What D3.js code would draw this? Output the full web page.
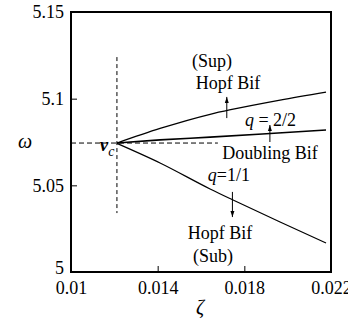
<!DOCTYPE html>
<html>
<head>
<meta charset="utf-8">
<script src="https://cdn.jsdelivr.net/npm/d3@7"></script>
<style>
body { margin: 0; background: #fff; }
text { font-family: "Liberation Serif", "Times New Roman", serif; fill: #000; }
</style>
</head>
<body>
<script>
// critical point
var critZeta = 0.01212, critOmega = 5.0744;

// branches out of the critical point
var supZeta = [0.01212, 0.01411, 0.01642, 0.01743, 0.01965, 0.02177];
var supOmega = [5.0744, 5.0828, 5.0910, 5.0938, 5.0992, 5.1038];
var dblZeta = [0.01212, 0.01411, 0.01642, 0.01919, 0.02177];
var dblOmega = [5.0744, 5.0762, 5.0778, 5.0799, 5.0819];
var subZeta = [0.01212, 0.01411, 0.01642, 0.01743, 0.01965, 0.02177];
var subOmega = [5.0742, 5.0629, 5.0479, 5.0418, 5.0288, 5.0167];

var xTicks = [0.01, 0.014, 0.018, 0.022];
var xTickLabels = ["0.01", "0.014", "0.018", "0.022"];
var yTicks = [5, 5.05, 5.1, 5.15];
var yTickLabels = ["5", "5.05", "5.1", "5.15"];

// annotations: [zeta, omega, text]
var notes = [
  [0.01651, 5.1183, "(Sup)"],
  [0.01725, 5.1056, "Hopf Bif"],
  [0.01918, 5.0652, "Doubling Bif"],
  [0.01688, 5.0190, "Hopf Bif"],
  [0.01655, 5.0058, "(Sub)"]
];
// arrows: [zeta, omega from, omega to]
var arrows = [
  [0.01719, 5.0888, 5.1010],
  [0.01918, 5.0750, 5.0848],
  [0.01745, 5.0462, 5.0317]
];

var width = 348, height = 326;
var margin = {left: 71, top: 12};
var w = 260, h = 260;

var svg = d3.select("body").append("svg")
  .attr("width", width)
  .attr("height", height);

var defs = svg.append("defs");
defs.append("marker")
  .attr("id", "head")
  .attr("markerUnits", "userSpaceOnUse")
  .attr("markerWidth", 8).attr("markerHeight", 8)
  .attr("refX", 6).attr("refY", 3)
  .attr("orient", "auto")
  .append("path")
  .attr("d", "M0,1 L6,3 L0,5 Z")
  .attr("fill", "#000");

var g = svg.append("g")
  .attr("transform", "translate(" + margin.left + "," + margin.top + ")");

var x = d3.scaleLinear().domain([0.01, 0.022]).range([0, w]);
var y = d3.scaleLinear().domain([5, 5.15]).range([h, 0]);

var xAxis = d3.axisBottom(x)
  .tickValues(xTicks)
  .tickFormat(function(d, i) { return xTickLabels[i]; })
  .tickSizeInner(-6).tickSizeOuter(0).tickPadding(9);
var yAxis = d3.axisLeft(y)
  .tickValues(yTicks)
  .tickFormat(function(d, i) { return yTickLabels[i]; })
  .tickSizeInner(-6).tickSizeOuter(0).tickPadding(7);

var gx = g.append("g").attr("transform", "translate(0," + h + ")").call(xAxis);
var gy = g.append("g").call(yAxis);
[gx, gy].forEach(function(a) {
  a.attr("font-family", "'Liberation Serif', serif");
  a.select(".domain").remove();
  a.selectAll("line").attr("stroke", "#000").attr("stroke-width", 1);
  a.selectAll("text")
    .style("font-size", "18px")
    .attr("fill", "#000");
});
// lift the bottom "5" so it clears "0.01"
gy.selectAll(".tick text").filter(function(d) { return d === 5; })
  .attr("dy", "0.1em");

// frame
g.append("rect")
  .attr("x", 0).attr("y", 0)
  .attr("width", w).attr("height", h)
  .attr("fill", "none")
  .attr("stroke", "#000")
  .attr("stroke-width", 2);

// dashed guide lines through the critical point
g.append("line")
  .attr("x1", x(0.01)).attr("x2", x(0.01678))
  .attr("y1", y(critOmega)).attr("y2", y(critOmega))
  .attr("stroke", "#000").attr("stroke-width", 1)
  .attr("stroke-dasharray", "5,3");
g.append("line")
  .attr("x1", x(critZeta)).attr("x2", x(critZeta))
  .attr("y1", y(5.124)).attr("y2", y(5.034))
  .attr("stroke", "#000").attr("stroke-width", 1)
  .attr("stroke-dasharray", "4,3");

var line = d3.line()
  .x(function(d) { return x(d[0]); })
  .y(function(d) { return y(d[1]); })
  .curve(d3.curveMonotoneX);

var branches = [
  [supZeta, supOmega, 1.3],
  [dblZeta, dblOmega, 1.6],
  [subZeta, subOmega, 1.2]
];
branches.forEach(function(b) {
  var pts = b[0].map(function(z, i) { return [z, b[1][i]]; });
  g.append("path")
    .datum(pts)
    .attr("d", line)
    .attr("fill", "none")
    .attr("stroke", "#000")
    .attr("stroke-width", b[2]);
});

// arrows
g.selectAll(".arrow")
  .data(arrows)
  .enter()
  .append("line")
  .attr("class", "arrow")
  .attr("x1", function(d) { return x(d[0]); })
  .attr("x2", function(d) { return x(d[0]); })
  .attr("y1", function(d) { return y(d[1]); })
  .attr("y2", function(d) { return y(d[2]); })
  .attr("stroke", "#000")
  .attr("stroke-width", 1)
  .attr("marker-end", "url(#head)");

// text notes
g.selectAll(".note")
  .data(notes)
  .enter()
  .append("text")
  .attr("class", "note")
  .attr("x", function(d) { return x(d[0]); })
  .attr("y", function(d) { return y(d[1]); })
  .attr("text-anchor", "middle")
  .style("font-size", "18px")
  .text(function(d) { return d[2]; });

// q labels
var q1 = g.append("text")
  .attr("x", x(0.01803)).attr("y", y(5.0842))
  .style("font-size", "18px");
q1.append("tspan").style("font-style", "italic").text("q");
q1.append("tspan").text(" = 2/2");

var q2 = g.append("text")
  .attr("x", x(0.01729)).attr("y", y(5.0525))
  .attr("text-anchor", "middle")
  .style("font-size", "18px");
q2.append("tspan").style("font-style", "italic").text("q");
q2.append("tspan").text("=1/1");

// v_c
var vc = g.append("text")
  .attr("x", x(0.01133)).attr("y", y(5.0698))
  .style("font-size", "19px");
vc.append("tspan").style("font-style", "italic").style("font-weight", "bold").text("v");
vc.append("tspan").style("font-style", "italic").style("font-size", "14px")
  .attr("dy", 5).text("c");

// axis titles
svg.append("text")
  .attr("x", 25).attr("y", 148)
  .attr("text-anchor", "middle")
  .style("font-size", "20px")
  .style("font-style", "italic")
  .text("ω");
svg.append("text")
  .attr("x", 200).attr("y", 314)
  .attr("text-anchor", "middle")
  .style("font-size", "20px")
  .style("font-style", "italic")
  .text("ζ");
</script>
</body>
</html>
